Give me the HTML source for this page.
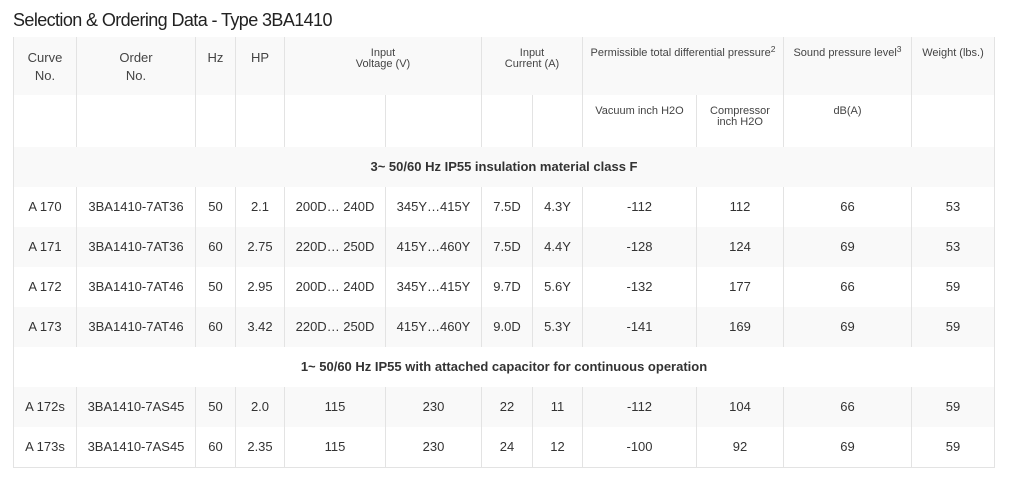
<!DOCTYPE html>
<html>
<head>
<meta charset="utf-8">
<style>
html,body{margin:0;padding:0;background:#fff;}
body{width:1010px;height:479px;position:relative;overflow:hidden;font-family:"Liberation Sans",Arial,sans-serif;color:#333;}
.title{position:absolute;left:13px;top:11px;font-size:18px;line-height:18px;letter-spacing:-0.6px;color:#222;white-space:nowrap;}
.band{position:absolute;left:13px;width:981px;}
.g{background:#f9f9f9;}
.vl{position:absolute;width:1px;background:#e3e3e3;}
.hl{position:absolute;height:1px;background:#e3e3e3;}
.t{position:absolute;text-align:center;white-space:nowrap;font-size:13px;}
.d{height:40px;line-height:40px;}
.h{font-size:13px;line-height:18px;color:#444;}
.s{font-size:11px;line-height:11px;color:#444;}
.b{font-weight:bold;color:#333;}
sup{font-size:8.5px;line-height:0;vertical-align:4px;}
</style>
</head>
<body>
<div class="title">Selection &amp; Ordering Data - Type 3BA1410</div>

<!-- bands -->
<div class="band g" style="top:37px;height:58px;"></div>
<div class="band g" style="top:147px;height:40px;"></div>
<div class="band g" style="top:227px;height:40px;"></div>
<div class="band g" style="top:307px;height:40px;"></div>
<div class="band g" style="top:387px;height:40px;"></div>

<!-- outer borders -->
<div class="vl" style="left:13px;top:37px;height:431px;"></div>
<div class="vl" style="left:994px;top:37px;height:431px;"></div>
<div class="hl" style="left:13px;top:467px;width:982px;"></div>

<!-- header row1 lines -->
<div class="vl" style="left:76px;top:37px;height:110px;"></div>
<div class="vl" style="left:195px;top:37px;height:110px;"></div>
<div class="vl" style="left:235px;top:37px;height:110px;"></div>
<div class="vl" style="left:284px;top:37px;height:110px;"></div>
<div class="vl" style="left:481px;top:37px;height:110px;"></div>
<div class="vl" style="left:582px;top:37px;height:110px;"></div>
<div class="vl" style="left:783px;top:37px;height:110px;"></div>
<div class="vl" style="left:911px;top:37px;height:110px;"></div>
<!-- header row2 sub lines -->
<div class="vl" style="left:385px;top:95px;height:52px;"></div>
<div class="vl" style="left:532px;top:95px;height:52px;"></div>
<div class="vl" style="left:696px;top:95px;height:52px;"></div>

<!-- data block 1 lines (187-347) -->
<div class="vl" style="left:76px;top:187px;height:160px;"></div>
<div class="vl" style="left:195px;top:187px;height:160px;"></div>
<div class="vl" style="left:235px;top:187px;height:160px;"></div>
<div class="vl" style="left:284px;top:187px;height:160px;"></div>
<div class="vl" style="left:385px;top:187px;height:160px;"></div>
<div class="vl" style="left:481px;top:187px;height:160px;"></div>
<div class="vl" style="left:532px;top:187px;height:160px;"></div>
<div class="vl" style="left:582px;top:187px;height:160px;"></div>
<div class="vl" style="left:696px;top:187px;height:160px;"></div>
<div class="vl" style="left:783px;top:187px;height:160px;"></div>
<div class="vl" style="left:911px;top:187px;height:160px;"></div>

<!-- data block 2 lines (387-467) -->
<div class="vl" style="left:76px;top:387px;height:80px;"></div>
<div class="vl" style="left:195px;top:387px;height:80px;"></div>
<div class="vl" style="left:235px;top:387px;height:80px;"></div>
<div class="vl" style="left:284px;top:387px;height:80px;"></div>
<div class="vl" style="left:385px;top:387px;height:80px;"></div>
<div class="vl" style="left:481px;top:387px;height:80px;"></div>
<div class="vl" style="left:532px;top:387px;height:80px;"></div>
<div class="vl" style="left:582px;top:387px;height:80px;"></div>
<div class="vl" style="left:696px;top:387px;height:80px;"></div>
<div class="vl" style="left:783px;top:387px;height:80px;"></div>
<div class="vl" style="left:911px;top:387px;height:80px;"></div>

<!-- header text -->
<div class="t h" style="left:14px;width:62px;top:49px;">Curve<br>No.</div>
<div class="t h" style="left:77px;width:118px;top:49px;">Order<br>No.</div>
<div class="t h" style="left:196px;width:39px;top:49px;">Hz</div>
<div class="t h" style="left:236px;width:48px;top:49px;">HP</div>
<div class="t s" style="left:285px;width:196px;top:47.5px;">Input<br>Voltage (V)</div>
<div class="t s" style="left:482px;width:100px;top:47.5px;">Input<br>Current (A)</div>
<div class="t s" style="left:583px;width:200px;top:47.5px;">Permissible total differential pressure<sup>2</sup></div>
<div class="t s" style="left:784px;width:127px;top:47.5px;">Sound pressure level<sup>3</sup></div>
<div class="t s" style="left:912px;width:82px;top:47.5px;">Weight (lbs.)</div>

<div class="t s" style="left:583px;width:113px;top:105.5px;">Vacuum inch H2O</div>
<div class="t s" style="left:697px;width:86px;top:105.5px;">Compressor<br>inch H2O</div>
<div class="t s" style="left:784px;width:127px;top:105.5px;">dB(A)</div>

<!-- section 1 -->
<div class="t d b" style="left:14px;width:980px;top:147px;">3~ 50/60 Hz IP55 insulation material class F</div>

<!-- rows block 1 -->
<div class="t d" style="left:14px;width:62px;top:187px;">A 170</div>
<div class="t d" style="left:77px;width:118px;top:187px;">3BA1410-7AT36</div>
<div class="t d" style="left:196px;width:39px;top:187px;">50</div>
<div class="t d" style="left:236px;width:48px;top:187px;">2.1</div>
<div class="t d" style="left:285px;width:100px;top:187px;">200D… 240D</div>
<div class="t d" style="left:386px;width:95px;top:187px;">345Y…415Y</div>
<div class="t d" style="left:482px;width:50px;top:187px;">7.5D</div>
<div class="t d" style="left:533px;width:49px;top:187px;">4.3Y</div>
<div class="t d" style="left:583px;width:113px;top:187px;">-112</div>
<div class="t d" style="left:697px;width:86px;top:187px;">112</div>
<div class="t d" style="left:784px;width:127px;top:187px;">66</div>
<div class="t d" style="left:912px;width:82px;top:187px;">53</div>

<div class="t d" style="left:14px;width:62px;top:227px;">A 171</div>
<div class="t d" style="left:77px;width:118px;top:227px;">3BA1410-7AT36</div>
<div class="t d" style="left:196px;width:39px;top:227px;">60</div>
<div class="t d" style="left:236px;width:48px;top:227px;">2.75</div>
<div class="t d" style="left:285px;width:100px;top:227px;">220D… 250D</div>
<div class="t d" style="left:386px;width:95px;top:227px;">415Y…460Y</div>
<div class="t d" style="left:482px;width:50px;top:227px;">7.5D</div>
<div class="t d" style="left:533px;width:49px;top:227px;">4.4Y</div>
<div class="t d" style="left:583px;width:113px;top:227px;">-128</div>
<div class="t d" style="left:697px;width:86px;top:227px;">124</div>
<div class="t d" style="left:784px;width:127px;top:227px;">69</div>
<div class="t d" style="left:912px;width:82px;top:227px;">53</div>

<div class="t d" style="left:14px;width:62px;top:267px;">A 172</div>
<div class="t d" style="left:77px;width:118px;top:267px;">3BA1410-7AT46</div>
<div class="t d" style="left:196px;width:39px;top:267px;">50</div>
<div class="t d" style="left:236px;width:48px;top:267px;">2.95</div>
<div class="t d" style="left:285px;width:100px;top:267px;">200D… 240D</div>
<div class="t d" style="left:386px;width:95px;top:267px;">345Y…415Y</div>
<div class="t d" style="left:482px;width:50px;top:267px;">9.7D</div>
<div class="t d" style="left:533px;width:49px;top:267px;">5.6Y</div>
<div class="t d" style="left:583px;width:113px;top:267px;">-132</div>
<div class="t d" style="left:697px;width:86px;top:267px;">177</div>
<div class="t d" style="left:784px;width:127px;top:267px;">66</div>
<div class="t d" style="left:912px;width:82px;top:267px;">59</div>

<div class="t d" style="left:14px;width:62px;top:307px;">A 173</div>
<div class="t d" style="left:77px;width:118px;top:307px;">3BA1410-7AT46</div>
<div class="t d" style="left:196px;width:39px;top:307px;">60</div>
<div class="t d" style="left:236px;width:48px;top:307px;">3.42</div>
<div class="t d" style="left:285px;width:100px;top:307px;">220D… 250D</div>
<div class="t d" style="left:386px;width:95px;top:307px;">415Y…460Y</div>
<div class="t d" style="left:482px;width:50px;top:307px;">9.0D</div>
<div class="t d" style="left:533px;width:49px;top:307px;">5.3Y</div>
<div class="t d" style="left:583px;width:113px;top:307px;">-141</div>
<div class="t d" style="left:697px;width:86px;top:307px;">169</div>
<div class="t d" style="left:784px;width:127px;top:307px;">69</div>
<div class="t d" style="left:912px;width:82px;top:307px;">59</div>

<!-- section 2 -->
<div class="t d b" style="left:14px;width:980px;top:347px;">1~ 50/60 Hz IP55 with attached capacitor for continuous operation</div>

<!-- rows block 2 -->
<div class="t d" style="left:14px;width:62px;top:387px;">A 172s</div>
<div class="t d" style="left:77px;width:118px;top:387px;">3BA1410-7AS45</div>
<div class="t d" style="left:196px;width:39px;top:387px;">50</div>
<div class="t d" style="left:236px;width:48px;top:387px;">2.0</div>
<div class="t d" style="left:285px;width:100px;top:387px;">115</div>
<div class="t d" style="left:386px;width:95px;top:387px;">230</div>
<div class="t d" style="left:482px;width:50px;top:387px;">22</div>
<div class="t d" style="left:533px;width:49px;top:387px;">11</div>
<div class="t d" style="left:583px;width:113px;top:387px;">-112</div>
<div class="t d" style="left:697px;width:86px;top:387px;">104</div>
<div class="t d" style="left:784px;width:127px;top:387px;">66</div>
<div class="t d" style="left:912px;width:82px;top:387px;">59</div>

<div class="t d" style="left:14px;width:62px;top:427px;">A 173s</div>
<div class="t d" style="left:77px;width:118px;top:427px;">3BA1410-7AS45</div>
<div class="t d" style="left:196px;width:39px;top:427px;">60</div>
<div class="t d" style="left:236px;width:48px;top:427px;">2.35</div>
<div class="t d" style="left:285px;width:100px;top:427px;">115</div>
<div class="t d" style="left:386px;width:95px;top:427px;">230</div>
<div class="t d" style="left:482px;width:50px;top:427px;">24</div>
<div class="t d" style="left:533px;width:49px;top:427px;">12</div>
<div class="t d" style="left:583px;width:113px;top:427px;">-100</div>
<div class="t d" style="left:697px;width:86px;top:427px;">92</div>
<div class="t d" style="left:784px;width:127px;top:427px;">69</div>
<div class="t d" style="left:912px;width:82px;top:427px;">59</div>
</body>
</html>
